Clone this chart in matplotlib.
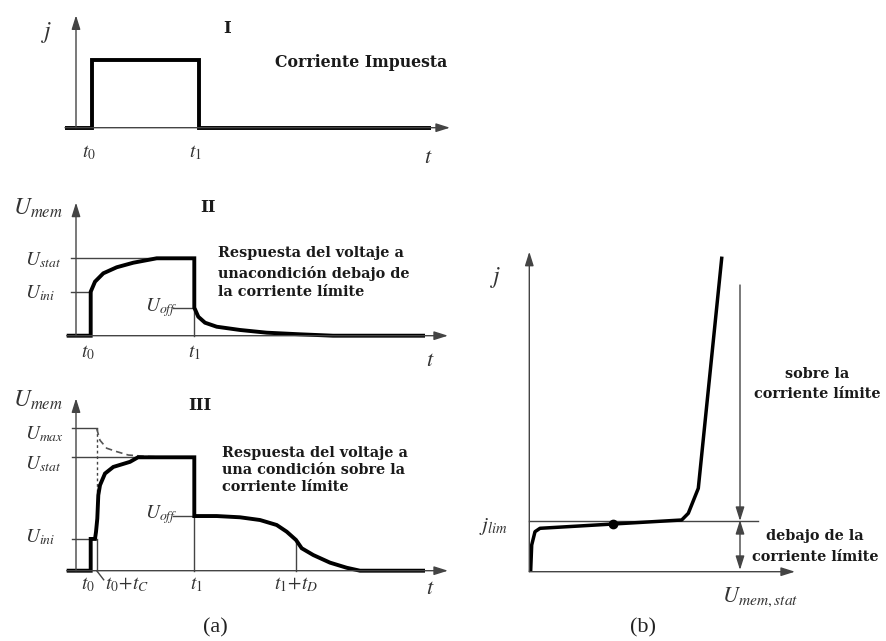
import matplotlib.pyplot as plt

plt.rcParams['mathtext.fontset'] = 'stix'

W, H = 887, 641

# panel I : imposed current pulse
p1_t = [-1.1, 1.57, 1.57, 12.33, 12.33, 35.5]
p1_j = [0, 0, 1, 1, 0, 0]
p1_t0, p1_t1 = 1.57, 12.33

# panel II : response below limiting current
p2_t = [-0.93, 1.47, 1.47, 1.9, 2.73, 4.07, 5.73, 8.07, 11.83, 11.83, 12.23,
        12.9, 14.07, 16.4, 19.07, 22.4, 25.7, 34.9]
p2_u = [0, 0, 0.568, 0.698, 0.806, 0.884, 0.943, 1.0, 1.0, 0.362, 0.245,
        0.168, 0.116, 0.074, 0.039, 0.018, 0, 0]
p2_stat, p2_ini, p2_off = 1.0, 0.568, 0.362
p2_t0, p2_t1 = 1.47, 11.83

# panel III : response above limiting current
p3_t = [-0.93, 1.47, 1.47, 1.9, 2.0, 2.13, 2.23, 2.4, 2.9, 3.73, 5.4, 6.2,
        11.83, 11.83, 14.07, 16.4, 18.4, 20.07, 21.07, 22.0, 22.57, 23.73,
        25.4, 27.07, 28.4, 34.9]
p3_u = [0, 0, 0.28, 0.28, 0.342, 0.46, 0.666, 0.754, 0.857, 0.915, 0.96, 1.0,
        1.0, 0.482, 0.482, 0.471, 0.447, 0.403, 0.344, 0.271, 0.198, 0.138,
        0.071, 0.026, 0, 0]
p3_dash_t = [2.07, 2.4, 3.07, 4.07, 5.23, 7.0, 9.4]
p3_dash_u = [1.254, 1.15, 1.08, 1.05, 1.02, 1.008, 1.0]
p3_max, p3_stat, p3_off, p3_ini = 1.254, 1.0, 0.482, 0.28
p3_t0, p3_tc, p3_t1, p3_td = 1.47, 2.07, 11.83, 22.0

# panel (b) : stationary current-voltage curve
b_u = [0.014, 0.024, 0.057, 0.107, 0.84, 1.524, 1.59, 1.69, 1.924]
b_j = [0.017, 0.267, 0.40, 0.434, 0.477, 0.517, 0.584, 0.834, 3.134]
b_jlim = 0.507
b_dot = (0.84, 0.477)

fig = plt.figure(figsize=(W / 100, H / 100), dpi=100)


def panel(ox, oy, sx, sy):
    ax = fig.add_axes([0, 0, 1, 1])
    ax.set_xlim(-ox / sx, (W - ox) / sx)
    ax.set_ylim(-(H - oy) / sy, oy / sy)
    ax.axis('off')
    ax.patch.set_alpha(0)
    return ax


AX = '#444444'
LAB = '#333333'
BOLD = dict(family='DejaVu Serif', fontweight='bold', fontsize=10.4, color='#1a1a1a')
ROMAN = dict(family='DejaVu Serif', fontweight='bold', fontsize=12, color='#1a1a1a')


def arrow(ax, x0, y0, x1, y1, both=False):
    st = '<|-|>' if both else '-|>'
    ax.annotate('', xy=(x1, y1), xytext=(x0, y0),
                arrowprops=dict(arrowstyle=st + ',head_length=0.7,head_width=0.22',
                                mutation_scale=12, lw=1.0, color=AX,
                                shrinkA=0, shrinkB=0))


def thick(ax, x, y, **kw):
    ax.plot(x, y, color='black', lw=2.8, solid_joinstyle='miter',
            solid_capstyle='butt', **kw)


def thin(ax, x, y, **kw):
    ax.plot(x, y, color=AX, lw=1.0, **kw)


# ---------- panel I ----------
a1 = panel(76, 127.7, 10, 67.7)
arrow(a1, -1.1, 0, 37.4, 0)
arrow(a1, 0, 0, 0, 1.66)
thick(a1, p1_t, p1_j)
a1.text(-2.9, 1.40, r'$j$', fontsize=17, color=LAB, ha='center', va='center')
a1.text(15.1, 1.46, 'I', ha='center', va='center', **ROMAN)
a1.text(19.9, 0.96, 'Corriente Impuesta', ha='left', va='center',
        **dict(BOLD, fontsize=11.3))
a1.text(p1_t0 - 0.3, -0.37, r'$t_{\mathit{0}}$', fontsize=14, color=LAB, ha='center', va='center')
a1.text(p1_t1 - 0.4, -0.37, r'$t_{\mathit{1}}$', fontsize=14, color=LAB, ha='center', va='center')
a1.text(35.2, -0.43, r'$t$', fontsize=16, color=LAB, ha='center', va='center')

# ---------- panel II ----------
a2 = panel(76, 335.7, 10, 77.4)
arrow(a2, -0.93, 0, 37.2, 0)
arrow(a2, 0, 0, 0, 1.72)
thin(a2, [-0.5, p2_t1], [p2_stat, p2_stat])
thin(a2, [-0.5, p2_t0], [p2_ini, p2_ini])
thin(a2, [p2_t1 - 2.1, p2_t1], [p2_off, p2_off])
thin(a2, [p2_t1, p2_t1], [0, p2_off])
thick(a2, p2_t, p2_u)
a2.text(-3.8, 1.65, r'$U_{mem}$', fontsize=17, color=LAB, ha='center', va='center')
a2.text(13.2, 1.65, 'II', ha='center', va='center', **ROMAN)
a2.text(-5.1, p2_stat - 0.02, r'$U_{stat}$', fontsize=14, color=LAB, ha='left', va='center')
a2.text(-5.1, p2_ini - 0.02, r'$U_{ini}$', fontsize=14, color=LAB, ha='left', va='center')
a2.text(6.9, p2_off, r'$U_{off}$', fontsize=14, color=LAB, ha='left', va='center')
a2.text(1.2, -0.22, r'$t_{\mathit{0}}$', fontsize=14, color=LAB, ha='center', va='center')
a2.text(11.8, -0.22, r'$t_{\mathit{1}}$', fontsize=14, color=LAB, ha='center', va='center')
a2.text(35.4, -0.31, r'$t$', fontsize=16, color=LAB, ha='center', va='center')
a2.text(14.2, 1.066, 'Respuesta del voltaje a', ha='left', va='center', **BOLD)
a2.text(14.2, 0.81, 'unacondición debajo de', ha='left', va='center', **BOLD)
a2.text(14.2, 0.565, 'la corriente límite', ha='left', va='center', **BOLD)

# ---------- panel III ----------
a3 = panel(76, 570.7, 10, 113.4)
arrow(a3, -0.93, 0, 37.2, 0)
arrow(a3, 0, 0, 0, 1.52)
thin(a3, [-0.4, p3_tc], [p3_max, p3_max])
thin(a3, [-0.4, p3_t1], [p3_stat, p3_stat])
thin(a3, [-0.4, p3_t0], [p3_ini, p3_ini])
thin(a3, [p3_t1 - 2.1, p3_t1], [p3_off, p3_off])
thin(a3, [p3_t1, p3_t1], [0, p3_off])
thin(a3, [p3_tc, p3_tc], [0, p3_ini])
thin(a3, [p3_tc, p3_tc + 0.7], [0, -0.08])
thin(a3, [p3_td, p3_td], [0, 0.271])
a3.plot([p3_tc, p3_tc], [p3_max, 0.69], color=AX, lw=1.0, ls=(0, (2, 2)))
a3.plot(p3_dash_t, p3_dash_u, color='#555555', lw=1.2, ls=(0, (4, 2.5)))
thick(a3, p3_t, p3_u)
a3.text(-3.8, 1.505, r'$U_{mem}$', fontsize=17, color=LAB, ha='center', va='center')
a3.text(12.4, 1.46, 'III', ha='center', va='center', **ROMAN)
a3.text(-5.1, p3_max - 0.05, r'$U_{max}$', fontsize=14, color=LAB, ha='left', va='center')
a3.text(-5.1, p3_stat - 0.06, r'$U_{stat}$', fontsize=14, color=LAB, ha='left', va='center')
a3.text(-5.1, p3_ini + 0.02, r'$U_{ini}$', fontsize=14, color=LAB, ha='left', va='center')
a3.text(6.9, p3_off + 0.01, r'$U_{off}$', fontsize=14, color=LAB, ha='left', va='center')
a3.text(1.2, -0.12, r'$t_{\mathit{0}}$', fontsize=14, color=LAB, ha='center', va='center')
a3.text(2.9, -0.12, r'$t_{\mathit{0}}\!+\!t_C$', fontsize=14, color=LAB, ha='left', va='center')
a3.text(12.0, -0.12, r'$t_{\mathit{1}}$', fontsize=14, color=LAB, ha='center', va='center')
a3.text(22.0, -0.12, r'$t_{\mathit{1}}\!+\!t_D$', fontsize=14, color=LAB, ha='center', va='center')
a3.text(35.4, -0.155, r'$t$', fontsize=16, color=LAB, ha='center', va='center')
a3.text(14.6, 1.038, 'Respuesta del voltaje a', ha='left', va='center', **BOLD)
a3.text(14.6, 0.888, 'una condición sobre la', ha='left', va='center', **BOLD)
a3.text(14.6, 0.738, 'corriente límite', ha='left', va='center', **BOLD)
a3.text(13.9, -0.5, '(a)', family='Liberation Serif', fontsize=16, color='#222222',
        ha='center', va='center')

# ---------- panel (b) ----------
ab = panel(529.3, 571.7, 100, 100)
arrow(ab, 0, 0, 2.657, 0)
arrow(ab, 0, 0, 0, 3.2)
thin(ab, [0, 2.287], [b_jlim, b_jlim])
arrow(ab, 2.107, 2.867, 2.107, b_jlim)
arrow(ab, 2.107, b_jlim + 0.01, 2.107, 0.017, both=True)
ab.plot(b_u, b_j, color='black', lw=2.5, solid_joinstyle='round')
ab.plot(*b_dot, 'o', color='black', ms=6)
ab.text(-0.34, 2.94, r'$j$', fontsize=17, color=LAB, ha='center', va='center')
ab.text(-0.36, 0.45, r'$j_{lim}$', fontsize=15, color=LAB, ha='center', va='center')
ab.text(2.31, -0.26, r'$U_{mem,stat}$', fontsize=16, color=LAB, ha='center', va='center')
ab.text(2.88, 1.98, 'sobre la', ha='center', va='center', **BOLD)
ab.text(2.88, 1.78, 'corriente límite', ha='center', va='center', **BOLD)
ab.text(2.86, 0.36, 'debajo de la', ha='center', va='center', **BOLD)
ab.text(2.86, 0.15, 'corriente límite', ha='center', va='center', **BOLD)
ab.text(1.14, -0.56, '(b)', family='Liberation Serif', fontsize=16, color='#222222',
        ha='center', va='center')

fig.savefig('out.png', dpi=100, facecolor='white')
